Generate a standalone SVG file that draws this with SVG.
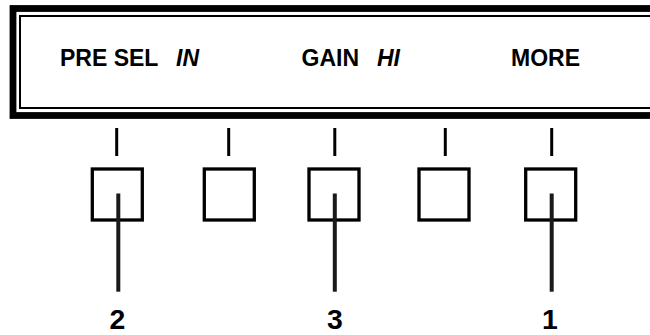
<svg xmlns="http://www.w3.org/2000/svg" width="650" height="335" viewBox="0 0 650 335">
<style>
.lbl{font-family:"Liberation Sans",Arial,sans-serif;font-weight:bold;font-size:23px;fill:#000}
.it{font-style:italic}
.num{font-family:"Liberation Sans",Arial,sans-serif;font-weight:bold;font-size:28.4px;fill:#000;text-anchor:middle}
.key{fill:none;stroke:#000;stroke-width:3.3}
.tick{stroke:#000;stroke-width:3}
.ptr{stroke:#1a1a1a;stroke-width:4}
</style>
<rect width="650" height="335" fill="#fff"/>
<g id="display">
<rect x="13" y="8.5" width="660" height="107" fill="none" stroke="#000" stroke-width="6.8"/>
<rect x="20" y="16" width="660" height="92" fill="none" stroke="#000" stroke-width="2"/>
<text class="lbl" x="60" y="66">PRE SEL</text>
<text class="lbl it" x="176" y="66">IN</text>
<text class="lbl" x="301.5" y="66">GAIN</text>
<text class="lbl it" x="377" y="66">HI</text>
<text class="lbl" x="511" y="66">MORE</text>
</g>
<g id="key1"><line class="tick" x1="116.7" y1="128" x2="116.7" y2="156"/><rect class="key" x="92.3" y="169" width="50" height="51"/></g>
<g id="key2"><line class="tick" x1="228.7" y1="128" x2="228.7" y2="156"/><rect class="key" x="204.3" y="169" width="50" height="51"/></g>
<g id="key3"><line class="tick" x1="334.8" y1="128" x2="334.8" y2="156"/><rect class="key" x="309" y="169" width="50" height="51"/></g>
<g id="key4"><line class="tick" x1="445.3" y1="128" x2="445.3" y2="156"/><rect class="key" x="419" y="169" width="50" height="51"/></g>
<g id="key5"><line class="tick" x1="551.7" y1="128" x2="551.7" y2="156"/><rect class="key" x="525.7" y="169" width="50" height="51"/></g>
<g id="connectors">
<line class="ptr" x1="118.3" y1="193.5" x2="118.3" y2="291.7"/>
<line class="ptr" x1="334.8" y1="193.5" x2="334.8" y2="291.7"/>
<line class="ptr" x1="551.7" y1="193.5" x2="551.7" y2="291.7"/>
</g>
<g id="labels">
<text class="num" x="117.5" y="329">2</text>
<text class="num" x="334.8" y="329">3</text>
<text class="num" x="550" y="329">1</text>
</g>
</svg>
